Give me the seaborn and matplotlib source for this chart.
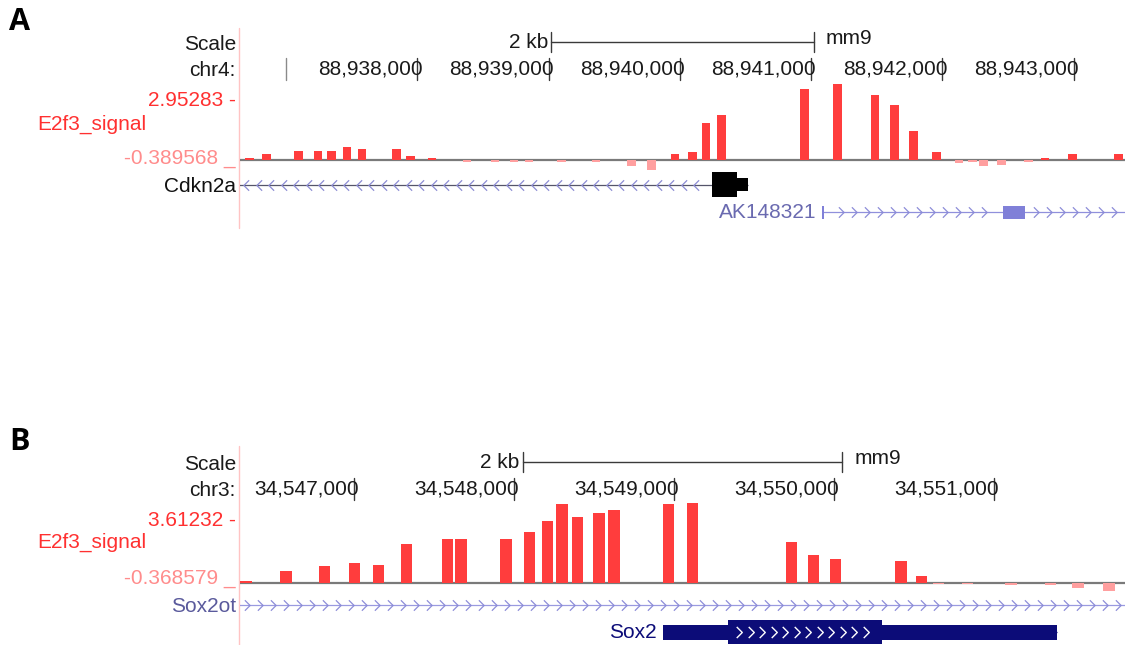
import numpy as np
import pandas as pd
import matplotlib
matplotlib.use("Agg")
import matplotlib.pyplot as plt
import matplotlib.transforms as mtransforms
from matplotlib.path import Path
from matplotlib.patches import Rectangle
import seaborn as sns

sns.set_style("white")
plt.rcParams["font.family"] = ["Liberation Sans", "DejaVu Sans"]

W, H, DPI = 1128, 645, 100

# ---------------- panel A: chr4, Cdkn2a locus (mm9) ----------------
CHROM_A = "chr4"
VIEW_A = (88936650, 88943390)
TICKS_A = [88937000, 88938000, 88939000, 88940000, 88941000, 88942000, 88943000]
TICK_LABELS_A = ["", "88,938,000", "88,939,000", "88,940,000",
                 "88,941,000", "88,942,000", "88,943,000"]
RANGE_A = (-0.389568, 2.95283)
RANGE_LABELS_A = ("2.95283 -", "-0.389568 _")
BIN_BP_A = 68
POS_A = [88936720, 88936852, 88937092, 88937244, 88937347, 88937465, 88937579,
         88937842, 88937945, 88938112, 88938379, 88938592, 88938737, 88938851,
         88939095, 88939361, 88939635, 88939784, 88939963, 88940096, 88940199,
         88940317, 88940949, 88941200, 88941486, 88941635, 88941779, 88941951,
         88942126, 88942229, 88942312, 88942446, 88942655, 88942781, 88942990,
         88943341]
VAL_A = [0.08, 0.23, 0.37, 0.37, 0.37, 0.50, 0.44,
         0.44, 0.18, 0.08, -0.06, -0.06, -0.06, -0.06,
         -0.06, -0.06, -0.21, -0.389568, 0.23, 0.32, 1.44,
         1.76, 2.76, 2.95283, 2.53, 2.13, 1.12, 0.32,
         -0.12, -0.06, -0.22, -0.18, -0.06, 0.08, 0.23,
         0.23]

CDKN2A_TX = (88925400, 88940519)
CDKN2A_EXONS = [(88940245, 88940519)]
CDKN2A_CDS = (88925400, 88940435)

AK148321_TX = (88941082, 88946000)
AK148321_EXONS = [(88941082, 88941097), (88942461, 88942628)]

# ---------------- panel B: chr3, Sox2 locus (mm9) ----------------
CHROM_B = "chr3"
VIEW_B = (34546287, 34551819)
TICKS_B = [34547000, 34548000, 34549000, 34550000, 34551000]
TICK_LABELS_B = ["34,547,000", "34,548,000", "34,549,000", "34,550,000", "34,551,000"]
RANGE_B = (-0.368579, 3.61232)
RANGE_LABELS_B = ("3.61232 -", "-0.368579 _")
BIN_BP_B = 72
POS_B = [34546325, 34546575, 34546815, 34547003, 34547153, 34547328, 34547584,
         34547668, 34547950, 34548097, 34548209, 34548300, 34548397, 34548531,
         34548625, 34548966, 34549116, 34549734, 34549872, 34550009, 34550419,
         34550547, 34550653, 34550835, 34551106, 34551353, 34551525, 34551719]
VAL_B = [0.08, 0.53, 0.77, 0.89, 0.82, 1.77, 1.99,
         1.99, 1.99, 2.31, 2.81, 3.57, 3.00, 3.19,
         3.32, 3.57, 3.61232, 1.84, 1.26, 1.09, 1.01,
         0.33, -0.06, -0.06, -0.08, -0.08, -0.21, -0.368579]

SOX2OT_TX = (34540000, 34560000)
SOX2OT_EXONS = []
SOX2_TX = (34548931, 34551394)
SOX2_EXONS = [(34548931, 34551394)]
SOX2_CDS = (34549337, 34550300)

TRACK_NAME = "E2f3_signal"
ASSEMBLY = "mm9"

RED = "#ff3d3d"
PINK = "#ff9f9f"
LABEL_RED = "#ff3030"
LABEL_PINK = "#ff8c8c"

DATA_LEFT, DATA_RIGHT = 240, 1125
FS = 15

fig = plt.figure(figsize=(W / DPI, H / DPI), dpi=DPI)

# full-page axes in pixel units for the left-hand labels
page = fig.add_axes([0, 0, 1, 1])
page.set_xlim(0, W)
page.set_ylim(H, 0)
page.set_axis_off()

CHEV_R = Path([(-0.5, 1.0), (0.5, 0.0), (-0.5, -1.0)],
              [Path.MOVETO, Path.LINETO, Path.LINETO])
CHEV_L = Path([(0.5, 1.0), (-0.5, 0.0), (0.5, -1.0)],
              [Path.MOVETO, Path.LINETO, Path.LINETO])


def signal_track(top, bottom, view, pos, val, vrange, bin_bp):
    ax = fig.add_axes([DATA_LEFT / W, 1 - bottom / H,
                       (DATA_RIGHT - DATA_LEFT) / W, (bottom - top) / H])
    df = pd.DataFrame({"pos": pos, "val": val})
    df["sign"] = np.where(df["val"] >= 0, "up", "down")
    native = np.diff(np.unique(df["pos"])).min()
    sns.barplot(data=df, x="pos", y="val", hue="sign",
                palette={"up": RED, "down": PINK}, hue_order=["up", "down"],
                native_scale=True, dodge=False, width=bin_bp / native,
                saturation=1, linewidth=0, errorbar=None, legend=False, ax=ax)
    ax.axhline(0, color="#7a7a7a", lw=1.6, zorder=0.5)
    ax.set_xlim(*view)
    ax.set_ylim(*vrange)
    ax.set_axis_off()
    return ax


def overlay(view):
    ov = fig.add_axes([DATA_LEFT / W, 0, (DATA_RIGHT - DATA_LEFT) / W, 1])
    ov.set_xlim(*view)
    ov.set_ylim(H, 0)
    ov.set_axis_off()
    return ov


def shifted(ax, dx=0, dy=0):
    return mtransforms.offset_copy(ax.transData, fig=fig, x=dx, y=dy, units="dots")


def ruler(ov, view, y_scale, y_ticks, ticks, labels):
    center = (view[0] + view[1]) / 2
    a, b = center - 1000, center + 1000
    ov.plot([a, b], [y_scale, y_scale], color="#3a3a3a", lw=1.0)
    for e in (a, b):
        ov.plot([e, e], [y_scale - 10, y_scale + 10], color="#3a3a3a", lw=1.0)
    ov.text(a, y_scale, "2 kb", ha="right", va="center", fontsize=FS,
            color="#1a1a1a", transform=shifted(ov, -3, 0))
    ov.text(b, y_scale - 3, ASSEMBLY, ha="left", va="center", fontsize=FS,
            color="#1a1a1a", transform=shifted(ov, 12, 0))
    for t, lab in zip(ticks, labels):
        ov.plot([t, t], [y_ticks - 11, y_ticks + 11],
                color="#3a3a3a" if lab else "#8a8a8a", lw=1.0, zorder=3)
        if lab:
            ov.text(t, y_ticks, lab, ha="right", va="center", fontsize=FS,
                    color="#1a1a1a", transform=shifted(ov, 5, 0))


def gene(ov, view, y, tx, exons, strand, line_color, arrow_color, box_color,
         cds=None, thick_h=24, thin_h=13, spacing_px=13, inner_arrows=None):
    bp_px = (view[1] - view[0]) / (DATA_RIGHT - DATA_LEFT)
    ov.plot(tx, [y, y], color=line_color, lw=0.9, solid_capstyle="butt")
    step = spacing_px * bp_px
    lo, hi = max(tx[0], view[0]), min(tx[1], view[1])
    xs = np.arange(lo + 0.5 * step, hi - 0.3 * step, step)
    keep = np.ones(len(xs), bool)
    for s, e in exons:
        keep &= (xs < s - 0.9 * step) | (xs > e + 0.6 * step)
    marker = CHEV_R if strand == "+" else CHEV_L
    ov.plot(xs[keep], np.full(keep.sum(), y), ls="none", marker=marker, ms=7.5,
            mfc="none", mec=arrow_color, mew=0.9)
    for s, e in exons:
        ov.add_patch(Rectangle((s, y - thin_h / 2), e - s, thin_h,
                               facecolor=box_color, lw=0, zorder=3))
        if cds is not None:
            cs, ce = max(s, cds[0]), min(e, cds[1])
            if ce > cs:
                ov.add_patch(Rectangle((cs, y - thick_h / 2), ce - cs, thick_h,
                                       facecolor=box_color, lw=0, zorder=3))
                if inner_arrows:
                    istep = 11.5 * bp_px
                    ix = np.arange(cs + 1.0 * istep, ce - 0.8 * istep, istep)
                    ov.plot(ix, np.full(len(ix), y), ls="none", marker=marker,
                            ms=8, mfc="none", mec=inner_arrows, mew=1.0, zorder=4)


def left_labels(y_scale, y_chr, chrom, y_top, y_name, y_bot, rlabels, y_gene,
                gene_name, gene_color, sep_top, sep_bottom):
    page.plot([239, 239], [sep_top, sep_bottom], color="#ffc4c4", lw=1.0)
    page.text(236, y_scale, "Scale", ha="right", va="center", fontsize=FS, color="#1a1a1a")
    page.text(236, y_chr, chrom + ":", ha="right", va="center", fontsize=FS, color="#1a1a1a")
    page.text(236, y_top, rlabels[0], ha="right", va="center", fontsize=FS, color=LABEL_RED)
    page.text(146, y_name, TRACK_NAME, ha="right", va="center", fontsize=FS, color=LABEL_RED)
    page.text(236, y_bot, rlabels[1], ha="right", va="center", fontsize=FS, color=LABEL_PINK)
    page.text(236, y_gene, gene_name, ha="right", va="center", fontsize=FS, color=gene_color)


# ---------------- panel A ----------------
page.text(9, 22, "A", ha="left", va="center", fontsize=22, fontweight="bold",
          family=["Open Sans", "DejaVu Sans"], color="black")
left_labels(44, 70, CHROM_A, 100, 124, 159, RANGE_LABELS_A, 186,
            "Cdkn2a", "#111111", 28, 228)
signal_track(84, 170.4, VIEW_A, POS_A, VAL_A, RANGE_A, BIN_BP_A)
ovA = overlay(VIEW_A)
ruler(ovA, VIEW_A, 42, 69, TICKS_A, TICK_LABELS_A)
gene(ovA, VIEW_A, 184.5, CDKN2A_TX, CDKN2A_EXONS, "-", "#55556a", "#8c8cd4",
     "black", cds=CDKN2A_CDS, thick_h=25, thin_h=13, spacing_px=12.5)
gene(ovA, VIEW_A, 212, AK148321_TX, AK148321_EXONS, "+", "#9090dc", "#8c8cd8",
     "#8080d8", cds=None, thin_h=13, spacing_px=13)
ovA.text(AK148321_TX[0], 212, "AK148321", ha="right", va="center", fontsize=FS,
         color="#6a6ab0", transform=shifted(ovA, -5, 0))

# ---------------- panel B ----------------
page.text(9, 442, "B", ha="left", va="center", fontsize=22, fontweight="bold",
          family=["Open Sans", "DejaVu Sans"], color="black")
left_labels(464, 490, CHROM_B, 520, 542, 579, RANGE_LABELS_B, 606,
            "Sox2ot", "#5a5a9c", 446, 645)
signal_track(503.3, 591.1, VIEW_B, POS_B, VAL_B, RANGE_B, BIN_BP_B)
ovB = overlay(VIEW_B)
ruler(ovB, VIEW_B, 462, 489, TICKS_B, TICK_LABELS_B)
gene(ovB, VIEW_B, 605, SOX2OT_TX, SOX2OT_EXONS, "+", "#9a9ae0", "#8c8cd8",
     "#8c8cd8", spacing_px=13)
gene(ovB, VIEW_B, 632, SOX2_TX, SOX2_EXONS, "+", "#0c0c78", "#0c0c78",
     "#0c0c78", cds=SOX2_CDS, thick_h=24, thin_h=15, inner_arrows="white")
ovB.text(SOX2_TX[0], 632, "Sox2", ha="right", va="center", fontsize=FS,
         color="#0c0c78", transform=shifted(ovB, -6, 0))

fig.savefig("out.png", dpi=DPI, facecolor="white")
